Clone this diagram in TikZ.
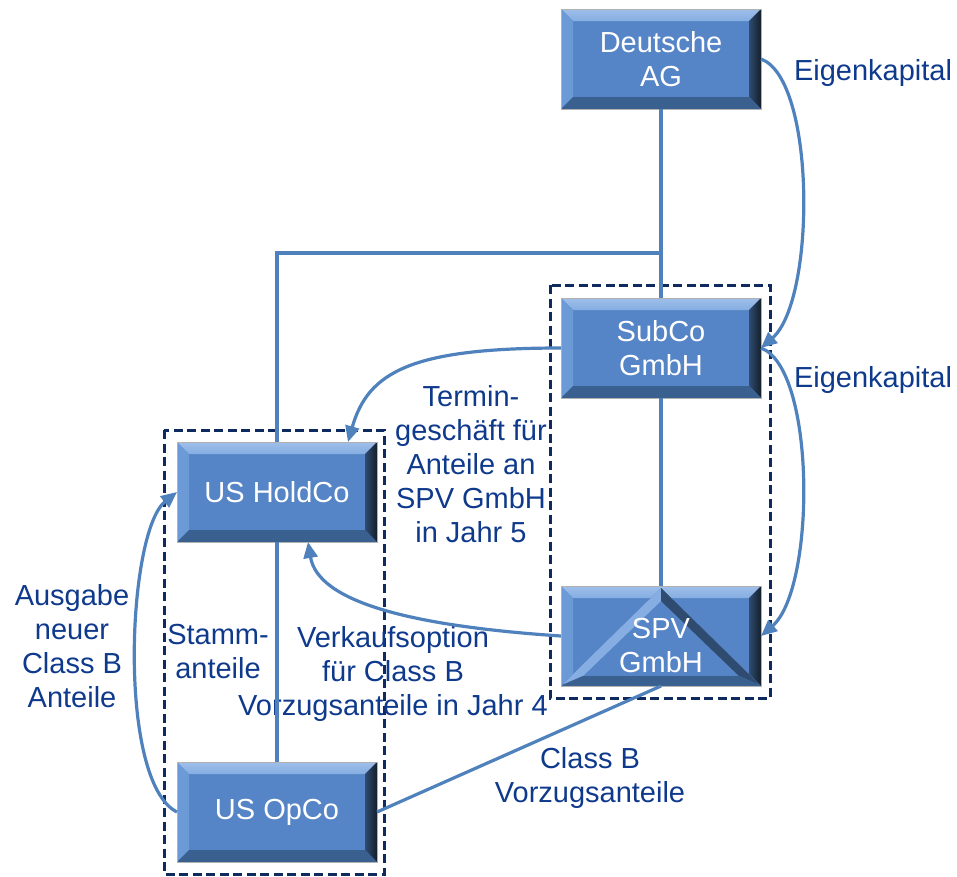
\documentclass[tikz,border=0pt]{standalone}
\usepackage{fontspec}
\setmainfont{Liberation Sans}
\usetikzlibrary{arrows.meta}
\definecolor{face}{HTML}{5585C6}
\definecolor{bvtop}{HTML}{86AEE3}
\definecolor{bvleft}{HTML}{6C9AD6}
\definecolor{bvright}{HTML}{2F4C70}
\definecolor{bvrightout}{HTML}{141E2A}
\definecolor{bvbottom}{HTML}{39608F}
\definecolor{conncol}{HTML}{4F81BD}
\definecolor{lblblue}{HTML}{0F3A8C}
\definecolor{grpcol}{HTML}{0E2A5E}
\newcommand\bvfill{%
  \def\bb{path picture bounding box}%
  \fill[face] (\bb.north west) rectangle (\bb.south east);
  \shade[top color=bvtop!80!white, bottom color=bvtop] (\bb.north west) -- (\bb.north east) -- ([shift={(-12,12)}]\bb.north east) -- ([shift={(12,12)}]\bb.north west) -- cycle;
  \fill[bvleft] (\bb.north west) -- ([shift={(12,12)}]\bb.north west) -- ([shift={(12,-12)}]\bb.south west) -- (\bb.south west) -- cycle;
  \shade[left color=bvright, right color=bvrightout] (\bb.north east) -- (\bb.south east) -- ([shift={(-12,-12)}]\bb.south east) -- ([shift={(-12,12)}]\bb.north east) -- cycle;
  \fill[bvbottom] (\bb.south west) -- (\bb.south east) -- ([shift={(-12,-12)}]\bb.south east) -- ([shift={(12,-12)}]\bb.south west) -- cycle;
}
\newcommand\trifill{%
  \def\bb{path picture bounding box}%
  \fill[face] ([shift={(0,2)}]\bb.north) -- ([shift={(1,-1)}]\bb.south west) -- ([shift={(-1,-1)}]\bb.south east) -- cycle;
  \fill[bvtop] ([shift={(0,2)}]\bb.north) -- ([shift={(1,-1)}]\bb.south west) -- ([shift={(22,-10)}]\bb.south west) -- ([shift={(0,15)}]\bb.north) -- cycle;
  \fill[bvright] ([shift={(0,2)}]\bb.north) -- ([shift={(-1,-1)}]\bb.south east) -- ([shift={(-22,-10)}]\bb.south east) -- ([shift={(0,15)}]\bb.north) -- cycle;
  \fill[bvbottom] ([shift={(1,-1)}]\bb.south west) -- ([shift={(-1,-1)}]\bb.south east) -- ([shift={(-22,-10)}]\bb.south east) -- ([shift={(22,-10)}]\bb.south west) -- cycle;
}
\tikzset{
  box/.style={rectangle, draw=gray!60, line width=0.8pt, minimum width=200pt, minimum height=100pt,
    inner sep=0pt, outer sep=0pt, text=white, font=\fontsize{29}{34}\selectfont, align=center,
    path picture={\bvfill}},
  spvbox/.style={path picture={\bvfill\trifill}},
  lbl/.style={text=lblblue, font=\fontsize{29}{34}\selectfont, align=center, inner sep=0pt},
  conn/.style={draw=conncol, line width=3.2pt},
  arr/.style={conn, -{Triangle[length=16pt,width=14pt]}},
  grp/.style={draw=grpcol, line width=3pt, dash pattern=on 9pt off 4.5pt},
}
\begin{document}
\begin{tikzpicture}[x=1pt,y=-1pt]
\useasboundingbox (0,0) rectangle (957,876);
% group frames
\draw[grp] (550,285) rectangle (770,698);
\draw[grp] (164,430) rectangle (384,874);
% boxes
\node[box] (dag) at (661,59) {Deutsche\\AG};
\node[box] (sub) at (661,348) {SubCo\\GmbH};
\node[box,spvbox] (spv) at (661,636) {\raisebox{-13pt}[\height][\depth]{\begin{tabular}{@{}c@{}}SPV\\GmbH\end{tabular}}};
\node[box] (hold) at (277,492) {US HoldCo};
\node[box] (opco) at (277,812) {US OpCo};
% labels
\node[lbl] (ek1) at (873,73) {Eigenkapital};
\node[lbl] (ek2) at (873,380) {Eigenkapital};
\node[lbl] (tg) at (471,464) {Termin-\\geschäft für\\Anteile an\\SPV GmbH\\in Jahr 5};
\node[lbl] (aus) at (72,646) {Ausgabe\\neuer\\Class B\\Anteile};
\node[lbl] (st) at (218,652) {Stamm-\\anteile};
\node[lbl] (vk) at (393,674) {Verkaufsoption\\für Class B\\Vorzugsanteile in Jahr 4};
\node[lbl] (cb) at (590,778) {Class B\\Vorzugsanteile};
% connectors
\coordinate (jn) at (661,253);
\draw[conn] (dag.south) -- (sub.north);
\draw[conn] (jn) -| (hold.north);
\draw[conn] (sub.south) -- (spv.north);
\draw[conn] (hold.south) -- (opco.north);
\draw[conn] (spv.south) -- (opco.east);
\draw[arr] (dag.east) .. controls +(55,20) and +(55,-48) .. (sub.east);
\draw[arr] (sub.east) .. controls +(55,20) and +(55,-48) .. (spv.east);
\draw[arr] (sub.west) .. controls +(-150,0) and +(20,-70) .. ([xshift=71pt]hold.north);
\draw[arr] (spv.west) .. controls +(-150,-10) and +(10,60) .. ([xshift=31pt]hold.south);
\draw[arr] (opco.west) .. controls +(-60,-30) and +(-50,40) .. (hold.west);
\end{tikzpicture}
\end{document}
